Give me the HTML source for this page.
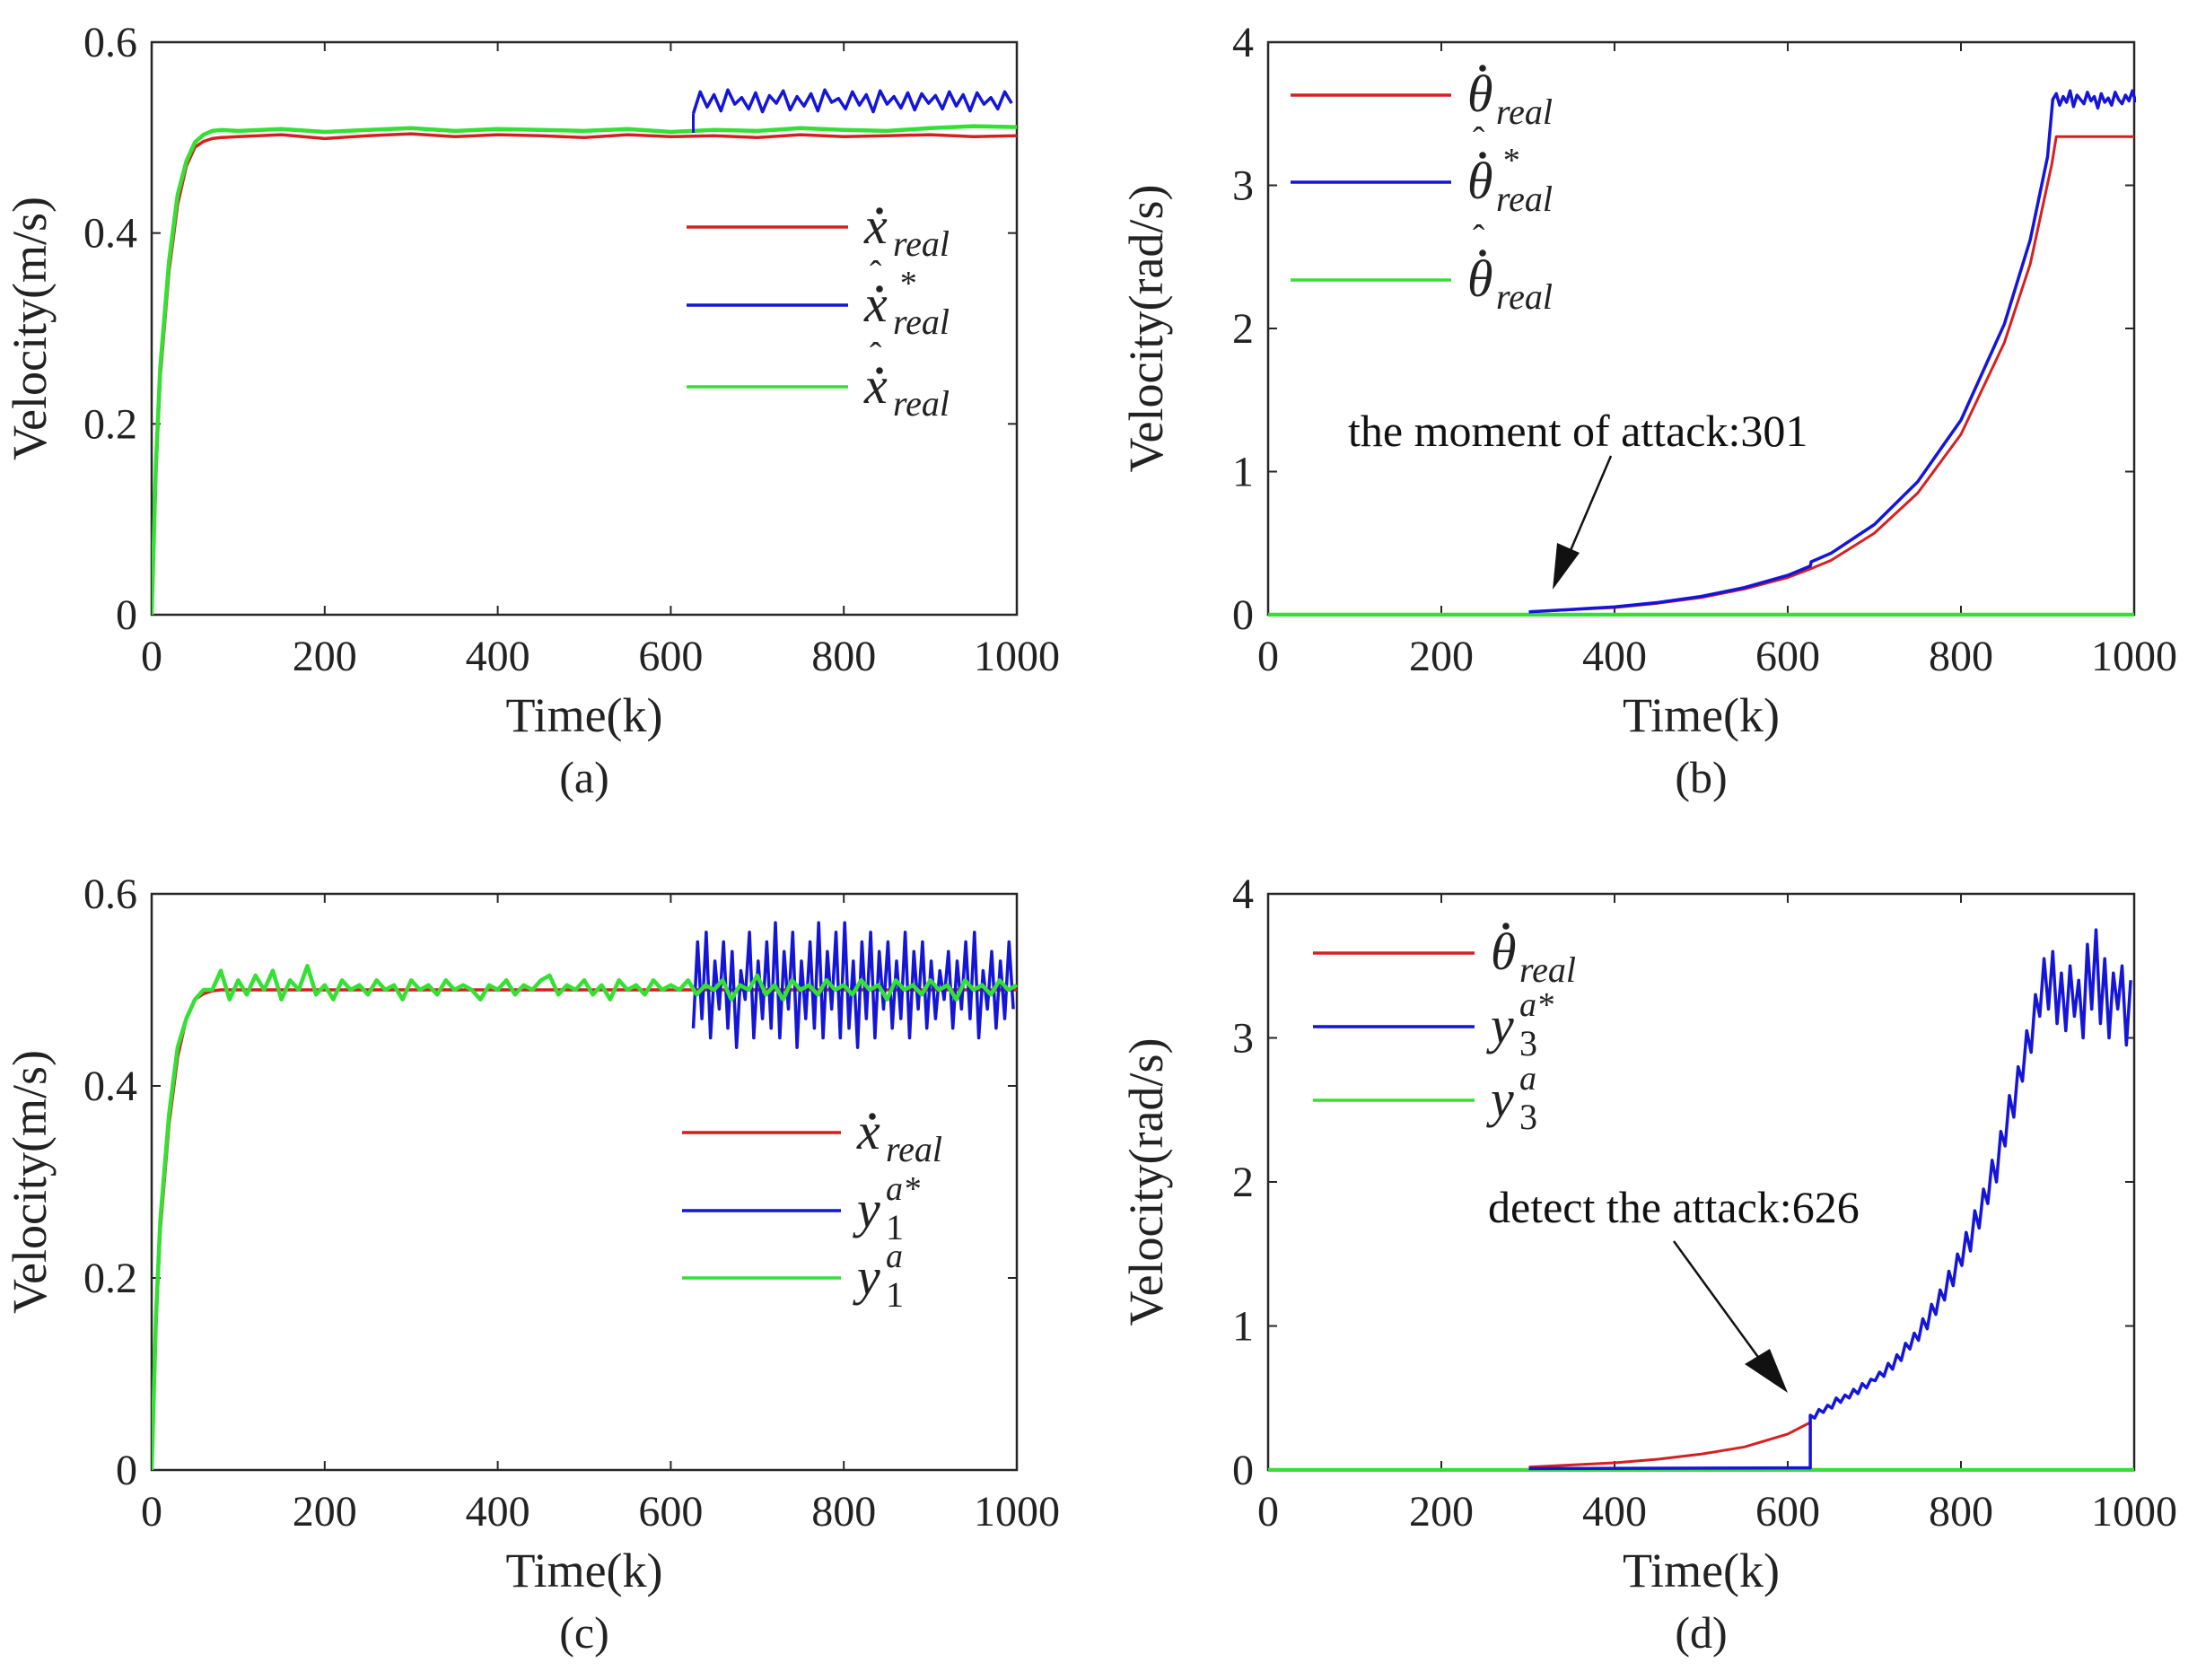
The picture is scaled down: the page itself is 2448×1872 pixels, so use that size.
<!DOCTYPE html>
<html><head><meta charset="utf-8">
<style>
html,body{margin:0;padding:0;background:#fff;}
svg{display:block;font-family:"Liberation Serif","DejaVu Serif",serif;}
</style></head>
<body>
<svg id="fig" width="2448" height="1872" viewBox="0 0 2448 1872" xmlns="http://www.w3.org/2000/svg"></svg>
<script>
// ---------- data ----------
const xTicks = [0,200,400,600,800,1000];
const yTicksVel = [0,0.2,0.4,0.6];
const yTicksRad = [0,1,2,3,4];

// (a)
const aRedK = [0,5,10,20,30,40,50,60,70,80,100,150,200,250,300,350,400,450,500,550,600,650,700,750,800,850,900,950,1000];
const aRedV = [0,0.15,0.25,0.36,0.43,0.47,0.49,0.496,0.499,0.5,0.501,0.503,0.499,0.502,0.504,0.501,0.503,0.502,0.5,0.503,0.501,0.502,0.5,0.503,0.501,0.502,0.503,0.501,0.502];
const aGreenK = [0,5,10,20,30,40,50,60,70,80,100,150,200,250,300,350,400,450,500,550,600,650,700,750,800,850,900,950,1000];
const aGreenV = [0,0.16,0.26,0.37,0.44,0.475,0.495,0.503,0.507,0.508,0.507,0.509,0.506,0.508,0.51,0.507,0.509,0.508,0.507,0.509,0.506,0.508,0.507,0.51,0.508,0.507,0.51,0.512,0.511];
const aBlueStart = 626, aBlueStep = 8;
const aBlueV = [0.525,0.548,0.532,0.545,0.528,0.55,0.535,0.542,0.53,0.547,0.527,0.544,0.536,0.549,0.529,0.543,0.533,0.546,0.528,0.55,0.537,0.541,0.53,0.548,0.534,0.545,0.527,0.549,0.535,0.543,0.531,0.547,0.529,0.546,0.536,0.544,0.53,0.548,0.533,0.545,0.528,0.547,0.535,0.542,0.53,0.548,0.536];

// (b)
const bRedK = [301,350,400,450,500,550,600,626,650,700,750,800,850,880,905,910,1000];
const bRedV = [0.02,0.035,0.05,0.08,0.12,0.18,0.26,0.32,0.38,0.57,0.85,1.26,1.9,2.45,3.15,3.34,3.34];
const bBlueK = [301,350,400,450,500,550,600,626,627,650,700,750,800,850,880,900,906];
const bBlueV = [0.02,0.037,0.055,0.085,0.128,0.19,0.275,0.34,0.37,0.43,0.63,0.93,1.36,2.03,2.62,3.2,3.6];
const bBlueTailStart = 906, bBlueTailStep = 4;
const bBlueTailV = [3.6,3.64,3.56,3.62,3.58,3.66,3.55,3.63,3.6,3.57,3.65,3.59,3.62,3.54,3.64,3.58,3.61,3.56,3.65,3.6,3.57,3.63,3.59,3.66,3.58];
const bGreenK = [0,1000];
const bGreenV = [0,0];

// (c)
const cRedK = [0,5,10,20,30,40,50,60,70,80,1000];
const cRedV = [0,0.15,0.25,0.36,0.43,0.47,0.49,0.496,0.499,0.5,0.5];
const cGreenHeadK = [0,5,10,20,30,40,50,60];
const cGreenHeadV = [0,0.16,0.26,0.37,0.44,0.47,0.49,0.5];
const cGreenStart = 70, cGreenStep = 10;
const cGreenV = [0.5,0.52,0.49,0.51,0.495,0.515,0.5,0.52,0.49,0.51,0.5,0.525,0.495,0.505,0.49,0.51,0.5,0.505,0.495,0.51,0.5,0.505,0.49,0.51,0.5,0.505,0.495,0.51,0.5,0.505,0.5,0.49,0.505,0.5,0.51,0.495,0.505,0.5,0.51,0.515,0.495,0.505,0.5,0.51,0.495,0.505,0.49,0.51,0.5,0.505,0.495,0.51,0.5,0.505,0.5,0.51,0.495,0.505,0.5,0.51,0.49,0.505,0.5,0.515,0.495,0.505,0.49,0.51,0.5,0.505,0.495,0.51,0.5,0.505,0.495,0.51,0.5,0.505,0.49,0.51,0.5,0.505,0.495,0.51,0.5,0.505,0.49,0.51,0.5,0.505,0.495,0.51,0.5,0.505];
const cBlueStart = 626, cBlueStep = 5;
const cBlueV = [0.46,0.55,0.47,0.56,0.45,0.53,0.48,0.55,0.46,0.54,0.44,0.52,0.49,0.56,0.45,0.53,0.47,0.55,0.46,0.57,0.45,0.54,0.48,0.56,0.44,0.53,0.47,0.55,0.46,0.57,0.45,0.54,0.48,0.56,0.45,0.57,0.46,0.53,0.44,0.55,0.47,0.56,0.45,0.54,0.48,0.55,0.46,0.53,0.47,0.56,0.45,0.54,0.48,0.55,0.46,0.53,0.47,0.52,0.49,0.54,0.46,0.53,0.48,0.55,0.47,0.56,0.45,0.52,0.48,0.54,0.46,0.53,0.47,0.55,0.48];

// (d)
const dRedK = [301,350,400,450,500,550,600,626];
const dRedV = [0.02,0.035,0.05,0.075,0.11,0.16,0.25,0.33];
const dBlueHeadK = [301,620,626];
const dBlueHeadV = [0.01,0.015,0.015];
const dBlueStart = 626, dBlueStep = 5;
const dBlueV = [0.38,0.36,0.42,0.40,0.45,0.43,0.50,0.47,0.52,0.50,0.56,0.53,0.60,0.57,0.63,
 0.62,0.68,0.65,0.74,0.70,0.80,0.76,0.88,0.84,0.95,0.90,1.05,0.98,1.15,1.08,
 1.25,1.18,1.38,1.28,1.50,1.42,1.65,1.52,1.80,1.68,1.95,1.85,2.15,2.00,2.35,
 2.25,2.60,2.45,2.80,2.70,3.05,2.90,3.30,3.15,3.55,3.20,3.60,3.10,3.45,3.05,
 3.50,3.15,3.40,3.00,3.65,3.20,3.75,3.10,3.55,3.00,3.45,3.20,3.50,2.95,3.40];
const dGreenK = [0,1000];
const dGreenV = [0,0];

// ---------- drawing ----------
const NS = "http://www.w3.org/2000/svg";
const svg = document.getElementById('fig');
function mk(tag, attrs, parent){
  const e = document.createElementNS(NS, tag);
  for (const k in attrs) e.setAttribute(k, attrs[k]);
  (parent||svg).appendChild(e);
  return e;
}
function seq(start, step, n){ const r=[]; for(let i=0;i<n;i++) r.push(start+i*step); return r; }

function makePanel(id, box, ymax, yTicks, yFmt, ylabel, cap){
  const g = mk('g', {});
  
  
  const sx = k => box.x0 + (k/1000)*(box.x1-box.x0);
  const sy = v => box.y1 - (v/ymax)*(box.y1-box.y0);
  const frame = mk('rect', {x:box.x0, y:box.y0, width:box.x1-box.x0, height:box.y1-box.y0, fill:'none', stroke:'#262626', 'stroke-width':2.5}, g);
  
  
  xTicks.forEach(t => {
    const x = sx(t);
    mk('line', {x1:x, x2:x, y1:box.y1, y2:box.y1-10, stroke:'#262626','stroke-width':2}, g);
    mk('line', {x1:x, x2:x, y1:box.y0, y2:box.y0+10, stroke:'#262626','stroke-width':2}, g);
    const tl = mk('text', {x:x, y:box.y1+62, 'font-size':48, 'text-anchor':'middle', fill:'#222'}, g);
    tl.textContent = t;
    
    
  });
  yTicks.forEach(t => {
    const y = sy(t);
    mk('line', {x1:box.x0, x2:box.x0+10, y1:y, y2:y, stroke:'#262626','stroke-width':2}, g);
    mk('line', {x1:box.x1, x2:box.x1-10, y1:y, y2:y, stroke:'#262626','stroke-width':2}, g);
    const tl = mk('text', {x:box.x0-16, y:y+16, 'font-size':48, 'text-anchor':'end', fill:'#222'}, g);
    tl.textContent = yFmt(t);
    
    
  });
  const xt = mk('text', {x:(box.x0+box.x1)/2, y:box.y1+130, 'font-size':54, 'text-anchor':'middle', fill:'#222'}, g);
  xt.textContent = 'Time(k)';
  
  
  const yx = box.x0 - 118, yy = (box.y0+box.y1)/2;
  const yt = mk('text', {x:yx, y:yy, 'font-size':54, 'text-anchor':'middle', fill:'#222', transform:`rotate(-90 ${yx} ${yy})`}, g);
  yt.textContent = ylabel;
  
  
  const ct = mk('text', {x:(box.x0+box.x1)/2, y:box.y1+198, 'font-size':50, 'text-anchor':'middle', fill:'#222'}, g);
  ct.textContent = cap;
  
  
  const clip = mk('clipPath', {id:'clip-'+id}, g);
  mk('rect', {x:box.x0, y:box.y0-4, width:box.x1-box.x0+2, height:box.y1-box.y0+6}, clip);
  const plot = mk('g', {'clip-path':`url(#clip-${id})`}, g);
  return {g, plot, sx, sy, box};
}

function series(p, ks, vs, color, w, name){
  let d = '';
  for (let i=0;i<ks.length;i++) d += (i?'L':'M') + p.sx(ks[i]).toFixed(1) + ' ' + p.sy(vs[i]).toFixed(1);
  const path = mk('path', {d, fill:'none', stroke:color, 'stroke-width':w, 'stroke-linejoin':'round'}, p.plot);
  
  
  return path;
}

const RED = '#d62020', BLUE = '#1515d8', GREEN = '#33e033';

function legendEntry(p, x1, x2, y, color, name, build){
  const ln = mk('line', {x1, x2, y1:y, y2:y, stroke:color, 'stroke-width':3.5}, p.g);
  
  
  const tg = mk('g', {}, p.g);
  
  
  build(tg, x2+18, y);
}
function mathLabel(tg, x, y, base, sub, sup, dot, hat){
  const by = y + 18;
  const t = mk('text', {x, y:by, 'font-size':58, 'font-style':'italic', fill:'#222'}, tg);
  t.textContent = base;
  const tall = base === 'θ';
  const bw = 28;
  const dotY = tall ? by - 48 : by - 36;
  if (dot) mk('circle', {cx:x+17, cy:dotY, r:3.8, fill:'#222'}, tg);
  if (hat) { const h = mk('text', {x:x+6, y:dotY-4, 'font-size':40, fill:'#222'}, tg); h.textContent = 'ˆ'; }
  if (sub) { const s = mk('text', {x:x+bw+4, y:by+14, 'font-size':40, 'font-style': /\d/.test(sub)?'normal':'italic', fill:'#222'}, tg); s.textContent = sub; }
  if (sup) { const s = mk('text', {x:x+bw+4 + (sub && sup!=='*' ? 0 : 6), y:by-30, 'font-size':38, 'font-style':'italic', fill:'#222'}, tg); s.textContent = sup; }
}

const fmtV = t => t===0 ? '0' : t.toFixed(1);
const fmtR = t => String(t);

// Panel a
const pa = makePanel('a', {x0:169,x1:1133,y0:47,y1:685}, 0.6, yTicksVel, fmtV, 'Velocity(m/s)', '(a)');
series(pa, aRedK, aRedV, RED, 3.5, 'series-x-real');
series(pa, aGreenK, aGreenV, GREEN, 4.5, 'series-x-hat');
series(pa, seq(aBlueStart, aBlueStep, aBlueV.length), aBlueV, BLUE, 3.5, 'series-x-hat-star');
series(pa, [aBlueStart, aBlueStart], [0.505, aBlueV[0]], BLUE, 3, 'series-x-hat-star-jump');
legendEntry(pa, 765, 945, 253, RED, 'legend-x-real', (g,x,y)=>mathLabel(g,x,y,'x','real',null,true,false));
legendEntry(pa, 765, 945, 340, BLUE, 'legend-x-hat-star', (g,x,y)=>mathLabel(g,x,y,'x','real','*',true,true));
legendEntry(pa, 765, 945, 431, GREEN, 'legend-x-hat', (g,x,y)=>mathLabel(g,x,y,'x','real',null,true,true));

// Panel b
const pb = makePanel('b', {x0:1413,x1:2378,y0:47,y1:685}, 4, yTicksRad, fmtR, 'Velocity(rad/s)', '(b)');
series(pb, bGreenK, bGreenV, GREEN, 4.5, 'series-theta-hat');
series(pb, bRedK, bRedV, RED, 3, 'series-theta-real');
series(pb, bBlueK.concat(seq(bBlueTailStart, bBlueTailStep, bBlueTailV.length)), bBlueV.concat(bBlueTailV), BLUE, 3.5, 'series-theta-hat-star');
legendEntry(pb, 1438, 1617, 106, RED, 'legend-theta-real', (g,x,y)=>mathLabel(g,x,y,'θ','real',null,true,false));
legendEntry(pb, 1438, 1617, 203, BLUE, 'legend-theta-hat-star', (g,x,y)=>mathLabel(g,x,y,'θ','real','*',true,true));
legendEntry(pb, 1438, 1617, 312, GREEN, 'legend-theta-hat', (g,x,y)=>mathLabel(g,x,y,'θ','real',null,true,true));
const ta = mk('text', {x:1502, y:497, 'font-size':50, fill:'#111'}, pb.g);
ta.textContent = 'the moment of attack:301';


const arB = mk('g', {}, pb.g);


mk('line', {x1:1795, y1:508, x2:1745, y2:625, stroke:'#111','stroke-width':2.5}, arB);
mk('polygon', {points:'1730,657 1735,605 1760,616', fill:'#111'}, arB);

// Panel c
const pc = makePanel('c', {x0:169,x1:1133,y0:996,y1:1638}, 0.6, yTicksVel, fmtV, 'Velocity(m/s)', '(c)');
series(pc, cRedK, cRedV, RED, 3.5, 'series-x-real');
series(pc, seq(cBlueStart, cBlueStep, cBlueV.length), cBlueV, BLUE, 3.5, 'series-y1-star');
series(pc, cGreenHeadK.concat(seq(cGreenStart, cGreenStep, cGreenV.length)), cGreenHeadV.concat(cGreenV), GREEN, 4.5, 'series-y1');
legendEntry(pc, 760, 937, 1262, RED, 'legend-x-real', (g,x,y)=>mathLabel(g,x,y,'x','real',null,true,false));
legendEntry(pc, 760, 937, 1349, BLUE, 'legend-y1-star', (g,x,y)=>mathLabel(g,x,y,'y','1','a*',false,false));
legendEntry(pc, 760, 937, 1424, GREEN, 'legend-y1', (g,x,y)=>mathLabel(g,x,y,'y','1','a',false,false));

// Panel d
const pd = makePanel('d', {x0:1413,x1:2378,y0:996,y1:1638}, 4, yTicksRad, fmtR, 'Velocity(rad/s)', '(d)');
series(pd, dGreenK, dGreenV, GREEN, 4.5, 'series-y3');
series(pd, dRedK, dRedV, RED, 3, 'series-theta-real');
series(pd, dBlueHeadK.concat(seq(dBlueStart, dBlueStep, dBlueV.length)), dBlueHeadV.concat(dBlueV), BLUE, 3.5, 'series-y3-star');
legendEntry(pd, 1463, 1643, 1062, RED, 'legend-theta-real', (g,x,y)=>mathLabel(g,x,y,'θ','real',null,true,false));
legendEntry(pd, 1463, 1643, 1144, BLUE, 'legend-y3-star', (g,x,y)=>mathLabel(g,x,y,'y','3','a*',false,false));
legendEntry(pd, 1463, 1643, 1226, GREEN, 'legend-y3', (g,x,y)=>mathLabel(g,x,y,'y','3','a',false,false));
const td = mk('text', {x:1658, y:1362, 'font-size':50, fill:'#111'}, pd.g);
td.textContent = 'detect the attack:626';


const arD = mk('g', {}, pd.g);


mk('line', {x1:1865, y1:1383, x2:1972, y2:1530, stroke:'#111','stroke-width':2.5}, arD);
mk('polygon', {points:'1992,1552 1944,1520 1972,1503', fill:'#111'}, arD);
</script>
</body></html>
